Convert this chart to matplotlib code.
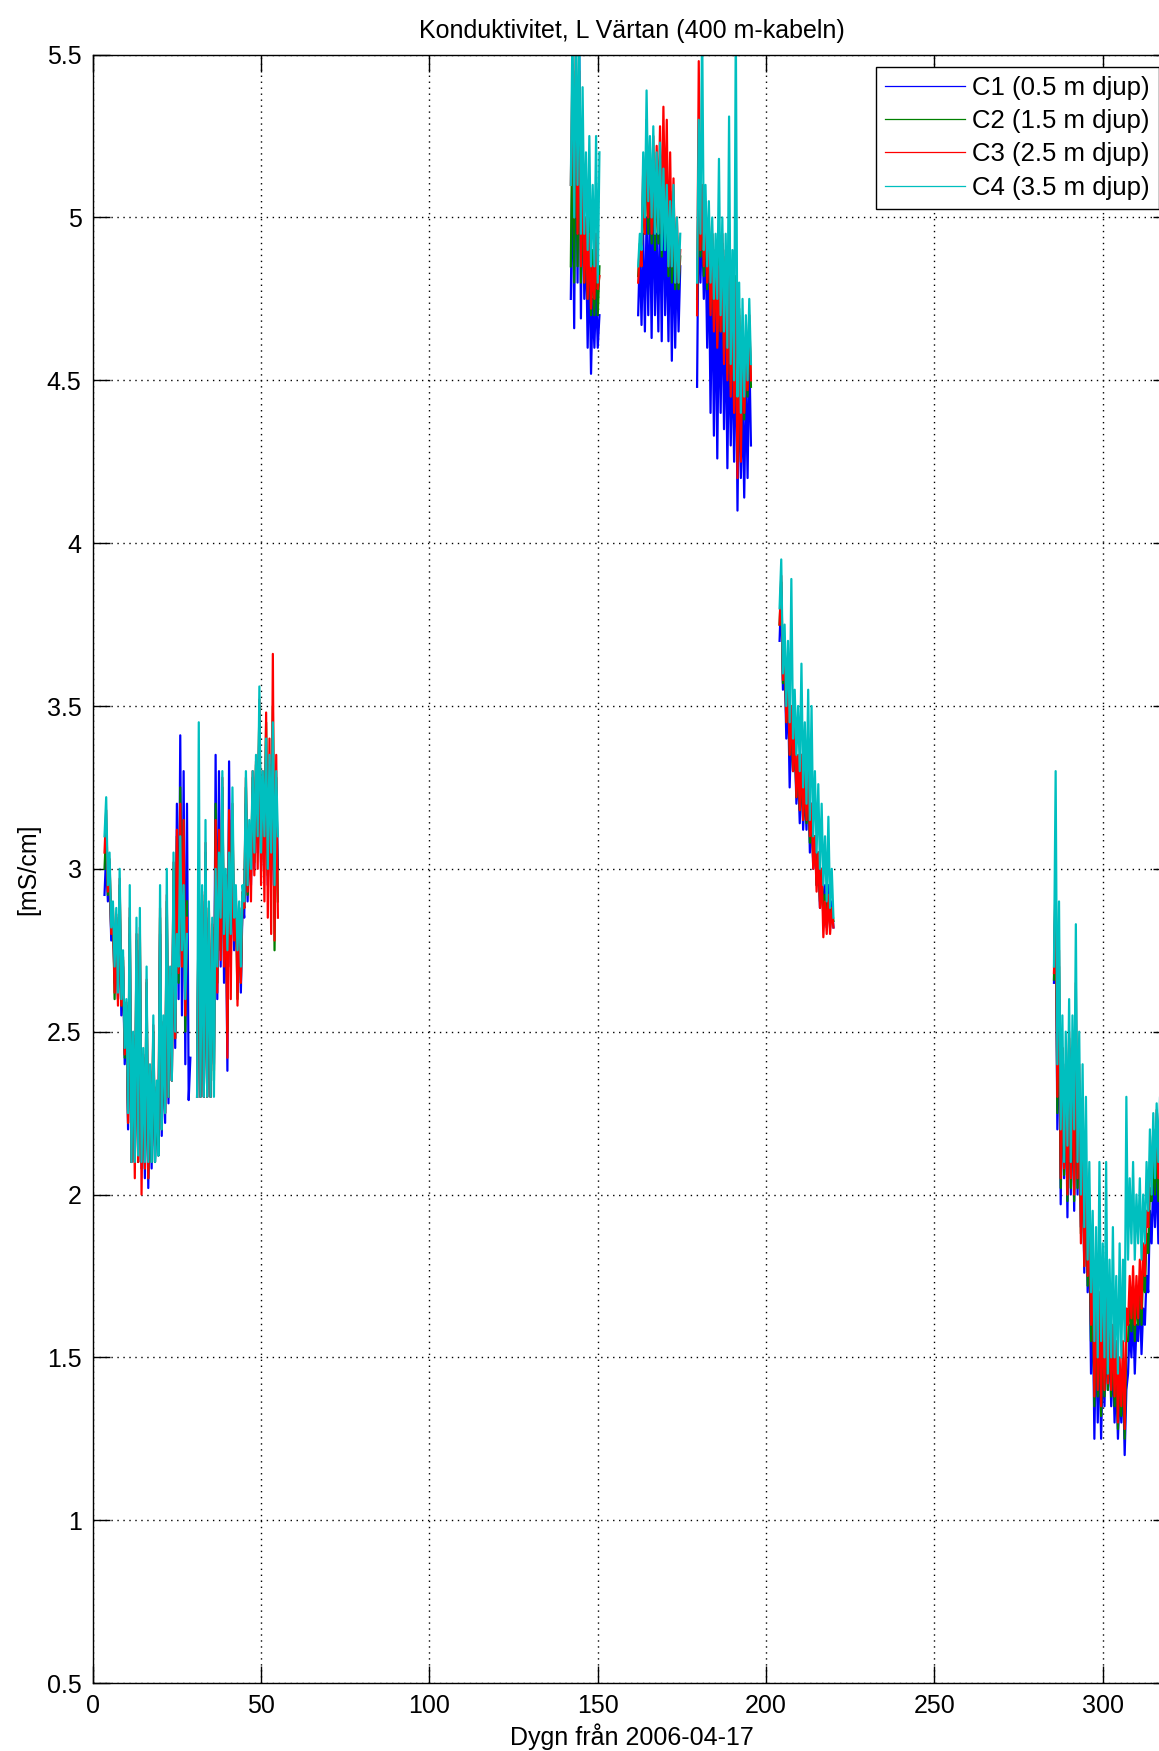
import numpy as np
import matplotlib
matplotlib.use("Agg")
import matplotlib.pyplot as plt

plt.rcParams['font.family'] = ['Liberation Sans', 'DejaVu Sans']
plt.rcParams['font.size'] = 18

nan = np.nan

# sampling: every half day, first day of each logged stretch
seg_start = [3.5, 142.0, 162.0, 179.5, 204.0, 285.5]
step = 0.5

labels = ['C1 (0.5 m djup)', 'C2 (1.5 m djup)', 'C3 (2.5 m djup)', 'C4 (3.5 m djup)']
colors = ['#0000ff', '#008000', '#ff0000', '#00bfbf']

c1 = [
    [2.92, 3.05, 2.90, 2.98, 2.78, 2.85, 2.65, 2.82, 2.60, 2.90,
     2.55, 2.70, 2.40, 2.55, 2.20, 2.80, 2.10, 2.45, 2.10, 2.70,
     2.10, 2.75, 2.08, 2.40, 2.05, 2.60, 2.02, 2.35, 2.08, 2.45,
     2.10, 2.30, 2.12, 2.80, 2.18, 2.50, 2.22, 2.85, 2.28, 2.65,
     2.35, 2.95, 2.45, 3.20, 2.60, 3.41, 2.55, 3.30, 2.40, 3.20,
     2.29, 2.42, nan, nan, nan, 2.30, 2.95, 2.30, 2.90, 2.30,
     3.00, 2.30, 2.85, 2.30, 2.80, 2.40, 3.35, 2.60, 3.30, 2.70,
     3.20, 2.65, 2.95, 2.38, 3.33, 2.70, 3.10, 2.75, 2.90, 2.70,
     2.85, 2.62, 2.90, 2.85, 3.20, 2.90, 3.10, 2.95, 3.25, 3.00,
     3.30, 3.05, 3.45, 3.00, 3.25, 3.05, 3.35, 2.95, 3.30, 2.95,
     3.35, 2.85, 3.25, 3.00],
    [4.75, 5.20, 4.66, 5.40, 4.80, 5.50, 4.69, 5.20, 4.75, 4.95,
     4.60, 4.90, 4.52, 4.75, 4.60, 4.78, 4.60, 4.70],
    [4.70, 4.90, 4.67, 4.95, 4.65, 5.00, 4.70, 5.05, 4.63, 5.10,
     4.70, 4.95, 4.65, 5.05, 4.62, 5.10, 4.70, 4.95, 4.62, 5.00,
     4.56, 4.95, 4.60, 4.90, 4.65, 4.85],
    [4.48, 5.09, 4.80, 5.00, 4.75, 4.95, 4.60, 4.90, 4.40, 4.85,
     4.33, 4.80, 4.26, 4.75, 4.40, 4.80, 4.35, 4.70, 4.23, 4.65,
     4.30, 4.60, 4.25, 4.70, 4.10, 4.55, 4.20, 4.45, 4.14, 4.50,
     4.20, 4.60, 4.30],
    [3.70, 3.85, 3.55, 3.65, 3.40, 3.55, 3.25, 3.45, 3.30, 3.40,
     3.20, 3.30, 3.14, 3.35, 3.12, 3.25, 3.12, 3.30, 3.05, 3.20,
     3.00, 3.10, 2.95, 3.05, 2.88, 3.00, 2.85, 2.95, 2.82, 2.95,
     2.82, 2.90, 2.82],
    [2.65, 2.95, 2.20, 2.60, 1.97, 2.40, 2.05, 2.35, 1.93, 2.45,
     2.00, 2.35, 1.95, 2.45, 2.00, 2.30, 1.90, 2.15, 1.76, 2.05,
     1.70, 1.90, 1.45, 1.70, 1.25, 1.60, 1.30, 1.55, 1.25, 1.50,
     1.35, 1.60, 1.40, 1.55, 1.35, 1.50, 1.30, 1.45, 1.25, 1.40,
     1.30, 1.45, 1.20, 1.40, 1.45, 1.60, 1.50, 1.65, 1.45, 1.60,
     1.55, 1.70, 1.51, 1.65, 1.60, 1.75, 1.70, 1.95, 1.85, 2.05,
     1.90, 2.08, 1.85, 2.05, 1.90, 2.00, 1.95, 2.05],
]

c2 = [
    [3.00, 3.12, 2.92, 3.02, 2.80, 2.88, 2.60, 2.85, 2.60, 2.95,
     2.58, 2.72, 2.42, 2.58, 2.22, 2.85, 2.10, 2.48, 2.10, 2.78,
     2.10, 2.80, 2.10, 2.42, 2.08, 2.65, 2.05, 2.38, 2.10, 2.50,
     2.10, 2.32, 2.12, 2.85, 2.20, 2.52, 2.25, 2.90, 2.30, 2.68,
     2.35, 3.00, 2.48, 3.10, 2.65, 3.25, 2.70, 3.15, 2.50, 2.90,
     nan, nan, nan, nan, nan, 2.30, 3.00, 2.30, 2.92, 2.30,
     3.05, 2.30, 2.88, 2.30, 2.82, 2.35, 3.20, 2.65, 3.10, 2.75,
     3.25, 2.72, 2.98, 2.50, 3.15, 2.75, 3.15, 2.80, 2.92, 2.60,
     2.88, 2.65, 2.92, 2.88, 3.25, 2.92, 3.12, 2.98, 3.28, 3.02,
     3.32, 3.08, 3.50, 3.02, 3.28, 3.08, 3.45, 2.98, 3.32, 3.00,
     3.50, 2.75, 3.28, 2.90],
    [4.85, 5.35, 4.80, 5.45, 4.85, 5.40, 4.80, 5.10, 4.80, 5.00,
     4.75, 5.00, 4.70, 4.90, 4.70, 4.95, 4.70, 4.85],
    [4.82, 4.92, 4.85, 5.10, 4.95, 5.25, 4.95, 5.15, 4.92, 5.20,
     4.90, 5.15, 4.92, 5.18, 4.88, 5.20, 4.90, 5.15, 4.82, 5.08,
     4.80, 5.05, 4.78, 4.95, 4.78, 4.88],
    [4.75, 5.15, 4.88, 5.08, 4.82, 5.02, 4.78, 4.98, 4.72, 4.95,
     4.68, 4.90, 4.62, 4.88, 4.65, 4.92, 4.58, 4.88, 4.52, 4.85,
     4.48, 4.78, 4.42, 4.82, 4.25, 4.72, 4.28, 4.66, 4.38, 4.58,
     4.45, 4.68, 4.48],
    [3.75, 3.88, 3.57, 3.68, 3.45, 3.58, 3.35, 3.48, 3.30, 3.42,
     3.22, 3.32, 3.18, 3.33, 3.15, 3.28, 3.14, 3.28, 3.08, 3.18,
     3.02, 3.10, 2.95, 3.05, 2.90, 3.00, 2.85, 2.92, 2.83, 2.92,
     2.83, 2.88, 2.84],
    [2.66, 2.98, 2.25, 2.70, 2.02, 2.45, 2.06, 2.38, 1.98, 2.48,
     2.02, 2.40, 1.98, 2.55, 2.02, 2.35, 1.88, 2.18, 1.78, 2.08,
     1.72, 1.92, 1.55, 1.75, 1.35, 1.68, 1.38, 1.62, 1.32, 1.58,
     1.38, 1.65, 1.40, 1.58, 1.38, 1.55, 1.35, 1.50, 1.28, 1.45,
     1.32, 1.50, 1.25, 1.55, 1.55, 1.70, 1.58, 1.72, 1.55, 1.70,
     1.60, 1.75, 1.60, 1.78, 1.70, 1.88, 1.82, 2.02, 1.98, 2.12,
     2.00, 2.18, 1.98, 2.15, 2.02, 2.12, 2.02, 2.12],
]

c3 = [
    [3.05, 3.18, 2.93, 3.03, 2.80, 2.88, 2.62, 2.86, 2.58, 2.97,
     2.58, 2.73, 2.43, 2.59, 2.22, 2.88, 2.10, 2.49, 2.05, 2.80,
     2.10, 2.82, 2.00, 2.43, 2.08, 2.66, 2.05, 2.38, 2.15, 2.52,
     2.15, 2.33, 2.20, 2.88, 2.25, 2.53, 2.25, 2.92, 2.30, 2.68,
     2.35, 3.02, 2.48, 3.12, 2.68, 3.20, 2.70, 3.15, 2.55, 2.85,
     nan, nan, nan, nan, nan, 2.30, 3.00, 2.30, 2.93, 2.30,
     3.08, 2.30, 2.88, 2.30, 2.83, 2.38, 3.15, 2.62, 3.12, 2.72,
     3.28, 2.70, 2.98, 2.42, 3.18, 2.60, 3.20, 2.78, 2.93, 2.58,
     2.88, 2.65, 2.93, 2.88, 3.28, 2.93, 3.13, 2.90, 3.30, 2.98,
     3.33, 3.00, 3.52, 2.95, 3.30, 2.90, 3.48, 2.85, 3.40, 2.80,
     3.66, 2.78, 3.35, 2.85],
    [5.10, 5.47, 5.00, 5.55, 4.95, 5.45, 4.85, 5.20, 4.80, 5.00,
     4.75, 4.95, 4.72, 4.85, 4.75, 4.95, 4.78, 4.82],
    [4.80, 4.90, 4.85, 5.15, 4.95, 5.30, 5.00, 5.20, 4.95, 5.25,
     4.95, 5.22, 5.00, 5.28, 4.95, 5.34, 5.00, 5.30, 4.85, 5.20,
     4.85, 5.12, 4.80, 5.00, 4.80, 4.90],
    [4.70, 5.48, 4.90, 5.10, 4.85, 5.05, 4.80, 5.00, 4.70, 4.95,
     4.65, 4.90, 4.60, 4.85, 4.65, 4.95, 4.55, 4.90, 4.50, 4.85,
     4.45, 4.75, 4.40, 4.80, 4.20, 4.70, 4.25, 4.65, 4.40, 4.55,
     4.47, 4.70, 4.50],
    [3.75, 3.90, 3.58, 3.70, 3.45, 3.60, 3.35, 3.50, 3.30, 3.45,
     3.22, 3.35, 3.18, 3.35, 3.15, 3.30, 3.15, 3.30, 3.10, 3.20,
     3.00, 3.10, 2.93, 3.05, 2.88, 3.00, 2.79, 2.90, 2.80, 2.92,
     2.80, 2.88, 2.82],
    [2.68, 3.00, 2.30, 2.75, 2.05, 2.45, 2.08, 2.40, 2.00, 2.50,
     2.05, 2.45, 2.00, 2.65, 2.05, 2.40, 1.85, 2.20, 1.78, 2.10,
     1.75, 1.95, 1.60, 1.80, 1.38, 1.75, 1.40, 1.70, 1.35, 1.65,
     1.40, 1.70, 1.42, 1.60, 1.40, 1.60, 1.38, 1.55, 1.30, 1.50,
     1.35, 1.55, 1.28, 1.65, 1.60, 1.75, 1.62, 1.78, 1.60, 1.75,
     1.62, 1.80, 1.65, 1.85, 1.75, 1.95, 1.90, 2.10, 2.05, 2.20,
     2.08, 2.26, 2.05, 2.25, 2.10, 2.22, 2.10, 2.20],
]

c4 = [
    [3.10, 3.22, 2.95, 3.05, 2.82, 2.90, 2.70, 2.88, 2.62, 3.00,
     2.60, 2.75, 2.45, 2.60, 2.25, 2.95, 2.10, 2.50, 2.10, 2.85,
     2.12, 2.88, 2.10, 2.45, 2.10, 2.70, 2.10, 2.40, 2.10, 2.55,
     2.10, 2.35, 2.12, 2.95, 2.20, 2.55, 2.25, 3.00, 2.30, 2.70,
     2.35, 3.05, 2.50, 2.80, 2.70, 3.10, 2.75, 2.95, 2.60, 2.80,
     nan, nan, nan, nan, nan, 2.30, 3.45, 2.30, 2.95, 2.30,
     3.15, 2.30, 2.90, 2.30, 2.85, 2.30, 3.00, 2.70, 3.05, 2.85,
     3.30, 2.80, 3.00, 2.75, 3.05, 2.80, 3.25, 2.85, 2.95, 2.75,
     2.90, 2.70, 2.95, 2.90, 3.30, 2.95, 3.15, 3.00, 3.30, 3.05,
     3.35, 3.10, 3.56, 3.05, 3.30, 3.10, 3.40, 3.00, 3.35, 3.05,
     3.45, 2.95, 3.30, 3.10],
    [5.10, 5.60, 5.00, 5.60, 5.10, 5.60, 4.95, 5.40, 4.95, 5.20,
     4.90, 5.25, 4.85, 5.10, 4.85, 5.25, 4.80, 5.20],
    [4.85, 4.95, 4.90, 5.20, 5.00, 5.39, 5.05, 5.25, 5.00, 5.28,
     4.95, 5.20, 4.95, 5.23, 4.90, 5.15, 4.90, 5.10, 4.85, 5.05,
     4.85, 5.10, 4.80, 5.00, 4.80, 4.95],
    [4.80, 5.30, 4.95, 5.60, 4.90, 5.10, 4.85, 5.05, 4.80, 5.00,
     4.75, 4.95, 4.75, 5.18, 4.70, 5.00, 4.65, 4.95, 4.60, 5.31,
     4.55, 4.90, 4.50, 5.60, 4.45, 4.80, 4.40, 4.75, 4.45, 4.70,
     4.50, 4.75, 4.55],
    [3.80, 3.95, 3.60, 3.75, 3.50, 3.70, 3.45, 3.89, 3.40, 3.55,
     3.35, 3.50, 3.30, 3.63, 3.25, 3.45, 3.20, 3.55, 3.15, 3.50,
     3.10, 3.30, 3.05, 3.26, 3.00, 3.20, 2.95, 3.10, 2.90, 3.16,
     2.88, 3.00, 2.85],
    [2.70, 3.30, 2.40, 2.90, 2.20, 2.55, 2.10, 2.50, 2.15, 2.60,
     2.10, 2.55, 2.20, 2.83, 2.10, 2.50, 2.00, 2.40, 1.90, 2.30,
     1.80, 2.10, 1.70, 1.95, 1.55, 1.90, 1.50, 2.10, 1.55, 1.85,
     1.50, 2.10, 1.45, 1.80, 1.50, 1.90, 1.50, 1.75, 1.45, 1.85,
     1.50, 1.80, 1.55, 2.30, 1.80, 2.05, 1.85, 2.10, 1.80, 2.00,
     1.85, 2.05, 1.80, 2.00, 1.85, 2.10, 1.95, 2.20, 2.00, 2.25,
     2.05, 2.28, 2.10, 2.30, 2.15, 2.25, 2.10, 2.30],
]


def join_segments(segs):
    xs, ys = [], []
    for t0, vals in zip(seg_start, segs):
        xs.extend(t0 + step * np.arange(len(vals)))
        ys.extend(vals)
        xs.append(nan)
        ys.append(nan)
    return np.array(xs), np.array(ys)


fig = plt.figure(figsize=(11.59, 17.51), dpi=100)
ax = fig.add_axes([0.080, 0.0388, 0.9296, 0.930])

for series, col, lab in zip([c1, c2, c3, c4], colors, labels):
    x, y = join_segments(series)
    ax.plot(x, y, color=col, lw=1.6, label=lab)

ax.set_xlim(0, 320)
ax.set_ylim(0.5, 5.5)
ax.set_xticks([0, 50, 100, 150, 200, 250, 300])
ax.set_yticks(np.arange(0.5, 5.51, 0.5))
ax.set_yticklabels(['0.5', '1', '1.5', '2', '2.5', '3', '3.5', '4', '4.5', '5', '5.5'])
ax.tick_params(direction='in', length=12, width=1, top=True, right=True, pad=8)
ax.grid(True, color='k', linestyle=(0, (1, 3.3)), linewidth=1)
for s in ax.spines.values():
    s.set_linewidth(1)

ax.set_title('Konduktivitet, L Värtan (400 m-kabeln)', fontsize=18, pad=12)
ax.set_xlabel('Dygn från 2006-04-17', labelpad=4)
ax.set_ylabel('[mS/cm]', labelpad=5)

leg = ax.legend(loc='upper left', bbox_to_anchor=(876 / 1159, 1 - 67 / 1751),
                bbox_transform=fig.transFigure, borderaxespad=0, fancybox=False,
                framealpha=1, edgecolor='k', handlelength=3.1, handletextpad=0.3,
                labelspacing=0.36, borderpad=0.35, fontsize=18.5)
leg.get_frame().set_linewidth(1)
for h in leg.get_lines():
    h.set_linewidth(0.9)

fig.savefig('out.png', dpi=100)
